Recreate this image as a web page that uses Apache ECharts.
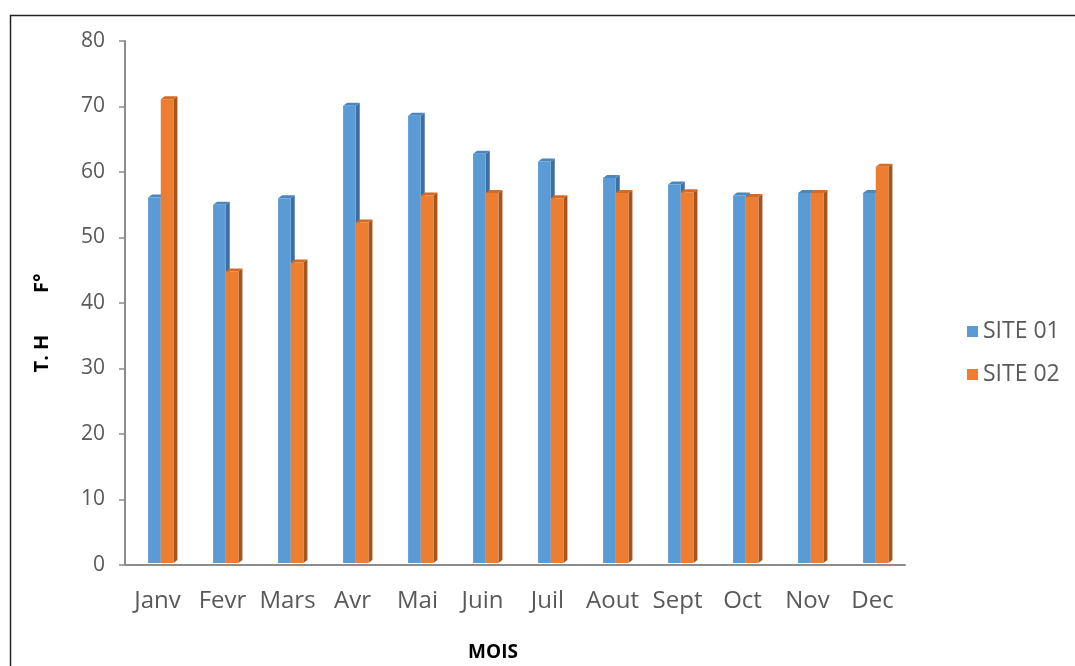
<!DOCTYPE html>
<html>
<head>
<meta charset="utf-8">
<script src="https://cdn.jsdelivr.net/npm/echarts@6/dist/echarts.min.js"></script>
<style>
  html, body { margin: 0; padding: 0; background: #fff; }
  #chart { width: 1075px; height: 666px; }
</style>
</head>
<body>
<div id="chart"></div>
<script>
const months = ['Janv', 'Fevr', 'Mars', 'Avr', 'Mai', 'Juin', 'Juil', 'Aout', 'Sept', 'Oct', 'Nov', 'Dec'];
const site01 = [56.1, 55, 56, 70.1, 68.6, 62.8, 61.6, 59.1, 58.1, 56.4, 56.8, 56.8];
const site02 = [71.1, 44.8, 46.2, 52.3, 56.4, 56.8, 56, 56.8, 56.9, 56.2, 56.8, 60.8];
const yTicks = [0, 10, 20, 30, 40, 50, 60, 70, 80];

const chart = echarts.init(document.getElementById('chart'));

// pseudo 3D bar: front face + side + top
function bar3d(offset, front, side, top) {
  return function (params, api) {
    const i = api.value(0);
    const v = api.value(1);
    const p = api.coord([i, v]);
    const base = api.coord([i, 0]);
    const cw = api.size([1, 0])[0];
    const w = cw * 0.195;
    const x0 = p[0] + cw * offset;
    const x1 = x0 + w;
    const y = p[1];
    const y0 = base[1] - 2;
    const dx = 4, dy = 3;
    return {
      type: 'group',
      children: [
        { type: 'polygon', shape: { points: [[x1, y], [x1 + dx, y - dy], [x1 + dx, y0 - dy], [x1, y0]] }, style: { fill: side } },
        { type: 'polygon', shape: { points: [[x0, y], [x1, y], [x1 + dx, y - dy], [x0 + dx, y - dy]] }, style: { fill: top } },
        { type: 'rect', shape: { x: x0, y: y, width: w, height: y0 - y }, style: { fill: front } }
      ]
    };
  };
}

const option = {
  animation: false,
  textStyle: { fontFamily: 'Open Sans' },
  graphic: [{
    type: 'rect', left: 8, top: 13, silent: true, z: -1,
    shape: { width: 1200, height: 800 },
    style: { fill: 'none', stroke: '#222', lineWidth: 1.5 }
  }],
  grid: { left: 125, right: 170, top: 41, bottom: 101, containLabel: false, outerBoundsMode: 'none' },
  legend: {
    orient: 'vertical',
    left: 962,
    top: 315,
    itemWidth: 11,
    itemHeight: 11,
    itemGap: 20,
    icon: 'rect',
    textStyle: { fontSize: 23, color: '#595959', fontFamily: 'Open Sans' },
    data: ['SITE 01', 'SITE 02']
  },
  xAxis: {
    type: 'category',
    data: months,
    name: 'MOIS',
    nameLocation: 'middle',
    nameGap: 78,
    nameTextStyle: { fontSize: 19, fontWeight: 'bold', color: '#000', padding: [0, 44, 0, 0] },
    axisLine: { lineStyle: { color: '#8c8c8c', width: 2 } },
    axisTick: { show: false },
    axisLabel: { fontSize: 24, color: '#595959', margin: 24, interval: 0 }
  },
  yAxis: {
    type: 'value',
    min: 0,
    max: 80,
    interval: 10,
    name: 'T. H        F°',
    nameLocation: 'middle',
    nameGap: 73,
    nameTextStyle: { fontSize: 20, fontWeight: 'bold', color: '#000', padding: [0, 40, 0, 0] },
    axisLine: { show: true, lineStyle: { color: '#8c8c8c', width: 2 } },
    axisTick: { show: true, length: 6, lineStyle: { color: '#8c8c8c', width: 1.5 } },
    splitLine: { show: false },
    axisLabel: { fontSize: 21, color: '#595959', margin: 20, formatter: function (v) { return yTicks.indexOf(v) >= 0 ? v : ''; } }
  },
  series: [
    {
      name: 'SITE 01',
      type: 'custom',
      itemStyle: { color: '#5B9BD5' },
      renderItem: bar3d(-0.145, '#5B9BD5', '#3E6F9E', '#4A86C0'),
      encode: { x: 0, y: 1 },
      data: site01.map((v, i) => [i, v])
    },
    {
      name: 'SITE 02',
      type: 'custom',
      itemStyle: { color: '#ED7D31' },
      renderItem: bar3d(0.05, '#ED7D31', '#A5561F', '#D46A24'),
      encode: { x: 0, y: 1 },
      data: site02.map((v, i) => [i, v])
    }
  ]
};

chart.setOption(option);
</script>
</body>
</html>
